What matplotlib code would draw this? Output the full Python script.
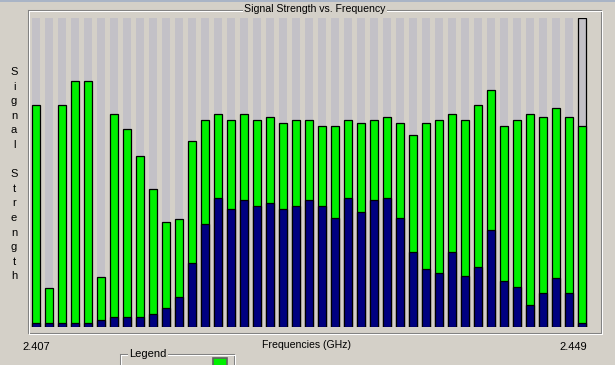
import matplotlib
matplotlib.use("Agg")
import matplotlib.pyplot as plt
from matplotlib.patches import Rectangle
from matplotlib.lines import Line2D

# ---- data (0-100 signal scale) ----
green_vals = [71.7, 12.5, 71.7, 79.5, 79.5, 16.3, 68.9, 64.0, 55.2, 44.7,
              33.9, 35.0, 60.1, 66.9, 68.8, 66.9, 68.8, 66.9, 67.9, 65.9,
              66.9, 66.9, 65.0, 65.0, 66.9, 65.9, 66.9, 67.9, 65.9, 62.0,
              65.9, 66.9, 68.8, 66.9, 71.8, 76.6, 65.0, 66.9, 68.8, 67.9,
              70.8, 67.9, 65.0]
navy_vals = [1.2, 1.2, 1.2, 1.2, 1.2, 2.3, 3.1, 3.1, 3.1, 4.1,
             6.1, 9.8, 20.6, 33.2, 41.8, 38.2, 41.1, 39.1, 40.0, 38.2,
             39.1, 41.1, 39.1, 35.2, 41.8, 37.1, 41.1, 41.8, 35.2, 24.4,
             18.7, 17.6, 24.4, 16.6, 19.5, 31.3, 14.8, 12.8, 7.0, 10.9,
             15.8, 10.9, 1.2]
max_val = 100
freq_start = "2.407"
freq_end = "2.449"
title = "Signal Strength vs. Frequency"
x_label = "Frequencies (GHz)"
y_label = "Signal Strength"

BG = "#d4d0c8"
W, H = 615, 365
FONT = "Liberation Sans"
FS = 7.6

fig = plt.figure(figsize=(W / 100, H / 100), dpi=100, facecolor=BG)

def fx(px):
    return px / W

def fy(py):
    return 1 - py / H

# plot axes: bar index -0.5..n-0.5 mapped to pixels, values 0..100 -> y 327..18
n = len(green_vals)
left_px, right_px = 29.5, 29.5 + 13 * n
top_px, bot_px = 18, 327
ax = fig.add_axes([fx(left_px), fy(bot_px), (right_px - left_px) / W, (bot_px - top_px) / H])
ax.set_xlim(-0.5, n - 0.5)
ax.set_ylim(0, max_val)
ax.axis("off")
ax.patch.set_visible(False)

xs = list(range(n))
bw = 0.6
lw = 0.9
ax.bar(xs, [max_val] * n, width=bw, color="#c3c1c7", edgecolor="none", zorder=1)
ax.bar([xs[-1]], [max_val], width=bw, color="#c3c1c7", edgecolor="black", linewidth=lw, zorder=1.5)
ax.bar(xs, green_vals, width=bw, color="#00f000", edgecolor="black", linewidth=lw, zorder=2)
ax.bar(xs, navy_vals, width=bw, color="#000080", edgecolor="black", linewidth=lw, zorder=3)

# top strip
fig.add_artist(Rectangle((0, fy(2)), 1, fy(0) - fy(2), transform=fig.transFigure,
                         facecolor="#a9b4c6", edgecolor="none"))

def etched_box(x0, y0, x1, y1):
    for off, col in ((0, "#808080"), (1, "white")):
        xa, xb = fx(x0 + off), fx(x1 + off)
        ya, yb = fy(y0 + off), fy(y1 + off)
        fig.add_artist(Line2D([xa, xb, xb, xa, xa], [ya, ya, yb, yb, ya],
                              transform=fig.transFigure, color=col, linewidth=0.75))

etched_box(28, 9.5, 601, 332.5)
etched_box(120, 354, 234, 380)

fig.text(fx(315), fy(8.5), title, ha="center", va="center", fontsize=FS, family=FONT,
         bbox=dict(facecolor=BG, edgecolor="none", pad=1.0))

# vertical stacked y label
for i, ch in enumerate(y_label):
    if ch == " ":
        continue
    fig.text(fx(14), fy(72 + i * 14.6), ch, ha="center", va="center", fontsize=FS + 0.4, family=FONT)

fig.text(fx(22), fy(346.5), freq_start, ha="left", va="center", fontsize=FS + 0.4, family=FONT)
fig.text(fx(587), fy(346.5), freq_end, ha="right", va="center", fontsize=FS + 0.4, family=FONT)
fig.text(fx(306), fy(345), x_label, ha="center", va="center", fontsize=FS, family=FONT)

fig.text(fx(148), fy(354), "Legend", ha="center", va="center", fontsize=FS + 0.4, family=FONT,
         bbox=dict(facecolor=BG, edgecolor="none", pad=0.8))

fig.add_artist(Rectangle((fx(212.5), fy(366)), 14 / W, 8 / H, transform=fig.transFigure,
                         facecolor="#00f000", edgecolor="#606060", linewidth=1.2))

fig.savefig("out.png", dpi=100, facecolor=BG)
